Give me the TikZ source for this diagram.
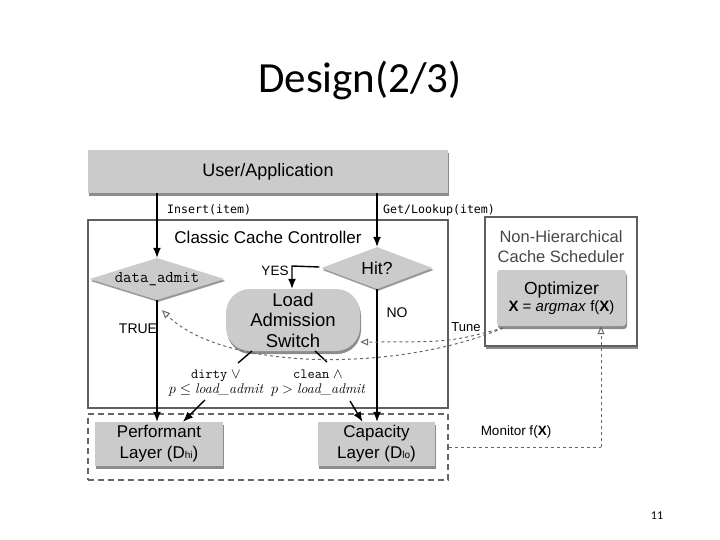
\documentclass[tikz,border=0pt]{standalone}
\usepackage{fontspec}
\setmainfont{Liberation Sans}
\newfontfamily\titlefont{Carlito}
\newfontfamily\codefont{DejaVu Sans Mono}
\newfontfamily\lmrfont{Latin Modern Roman}
\usetikzlibrary{shapes.geometric,shadows,arrows.meta,calc}
\definecolor{boxgray}{RGB}{203,203,203}
\definecolor{framegray}{RGB}{95,95,95}
\tikzset{
  fs/.style={font=\fontsize{#1}{1.15\dimexpr#1pt\relax}\selectfont},
  graybox/.style={fill=boxgray, draw=none, align=center, inner sep=0pt,
    drop shadow={shadow xshift=1pt, shadow yshift=-3pt, fill=black, opacity=0.45}},
  frame/.style={draw=framegray, line width=1.3pt, inner sep=0pt},
  dia/.style={diamond, fill=boxgray, inner sep=0pt,
    drop shadow={shadow xshift=1pt, shadow yshift=-2pt, fill=black, opacity=0.4}},
  arr/.style={-{Latex[length=10pt,width=8pt]}, line width=1.4pt},
  ln/.style={line width=1.4pt},
  tune/.style={dashed, line width=1pt, draw=black!60, -{Triangle[open,length=8pt,width=7pt]}},
  lbl/.style={inner sep=0pt},
}
\begin{document}
\begin{tikzpicture}[x=1pt,y=-1pt]
\useasboundingbox (0,0) rectangle (720,540);
\node[lbl, font=\titlefont\fontsize{43}{48}\selectfont] (title) at (360,80) {Design(2/3)};
\node[lbl, font=\titlefont\fontsize{12}{14}\selectfont] (pg) at (657,516) {11};

% boxes
\node[graybox, minimum width=360pt, minimum height=43pt, fs=18] (user) at (268,171.5) {User/Application};
\node[frame, minimum width=360pt, minimum height=188pt] (ccc) at (268,314) {};
\node[lbl, fs=17] (ccclbl) at (268,237) {Classic Cache Controller};
\node[frame, minimum width=152pt, minimum height=129pt,
  drop shadow={shadow xshift=1pt, shadow yshift=-3pt, fill=black, opacity=0.45}, fill=white] (nhcs) at (561,281.5) {};
\node[lbl, text=black!72, align=center, font=\fontsize{16.5}{20}\selectfont] (nhlbl) at (561,247) {Non-Hierarchical\\Cache Scheduler};
\node[graybox, minimum width=129pt, minimum height=56pt, rounded corners=3pt] (opt) at (561.5,298)
  {\fontsize{17.5}{20}\selectfont Optimizer\\[2pt]
   \fontsize{15}{17}\selectfont\textbf{X} = \textit{argmax} f(\textbf{X})};

\node[dia, aspect=3.2, minimum width=135pt, minimum height=42pt, font=\ttfamily\fontsize{16.4}{18}\selectfont] (da) at (157,279) {data\_admit};
\node[dia, aspect=2.6, minimum width=111pt, minimum height=42pt, fs=17.5] (hit) at (377,268) {Hit?};
\node[graybox, minimum width=134pt, minimum height=62pt, rounded corners=24pt, font=\fontsize{18.5}{20.5}\selectfont] (las) at (293,320)
  {Load\\Admission\\Switch};

\node[draw=black!60, dash pattern=on 6pt off 4pt, line width=1.1pt, minimum width=360pt, minimum height=66pt] (layers) at (268,447) {};
\node[graybox, minimum width=128pt, minimum height=44pt, font=\fontsize{17}{21}\selectfont] (perf) at (159,444)
  {Performant\\Layer (D{\fontsize{10}{10}\selectfont hi})};
\node[graybox, minimum width=117pt, minimum height=44pt, font=\fontsize{17}{21}\selectfont] (cap) at (376.5,444)
  {Capacity\\Layer (D{\fontsize{10}{10}\selectfont lo})};

% labels
\node[lbl, anchor=west, font=\codefont\fontsize{11.6}{13}\selectfont] (ins) at (167,210) {Insert(item)};
\node[lbl, anchor=west, font=\codefont\fontsize{11.6}{13}\selectfont] (get) at (383,210) {Get/Lookup(item)};
\node[lbl, fs=13.5] (yes) at (275,271) {YES};
\node[lbl, fs=14] (no) at (397,313) {NO};
\node[lbl, fs=14] (true) at (138,329) {TRUE};
\node[lbl, fs=13] (tunel) at (466,327) {Tune};
\node[lbl, fs=13.5] (monl) at (516,432) {Monitor f(\textbf{X})};
\node[lbl, align=center, font=\fontsize{14}{15.5}\selectfont] (dl) at (216,383)
  {{\ttfamily dirty} $\vee$\\$p\le{}${\lmrfont\itshape load\_admit}};
\node[lbl, align=center, font=\fontsize{14}{15.5}\selectfont] (cl) at (318,383)
  {{\ttfamily clean} $\wedge$\\$p>{}${\lmrfont\itshape load\_admit}};

% connectors
\draw[arr] (user.south -| da.north) -- (da.north);
\draw[arr] (user.south -| hit.north) -- (hit.north);
\coordinate (yk) at (292,266);
\draw[arr] ($(hit.west)+(-2,-1)$) -- (yk) -- (yk |- las.north);
\draw[arr] (da.south) -- (da.south |- perf.north);
\draw[arr] (hit.south) -- (hit.south |- cap.north);

\coordinate (d1) at (252,351);
\coordinate (d2) at (238,363);
\coordinate (d3) at (205,400);
\draw[ln] (d1) -- (d2);
\draw[arr] (d3) -- ($(perf.north)+(24,0)$);
\coordinate (c1) at (315,351);
\coordinate (c2) at (327,362);
\coordinate (c3) at (350,401);
\draw[ln] (c1) -- (c2);
\draw[arr] (c3) -- ($(cap.north)+(-14,0)$);

% tune
\coordinate (t0) at (503,328);
\draw[tune] (t0) .. controls (450,342) .. ($(las.east)+(0,22)$);
\draw[tune] (t0) .. controls (400,372) and (225,372) .. ($(da.south)+(5,10)$);

% monitor
\coordinate (mon) at (601,447);
\draw[dashed, line width=1pt, draw=black!60] (layers.east) -- (mon);
\draw[tune] (mon) -- (mon |- opt.south);
\end{tikzpicture}
\end{document}
